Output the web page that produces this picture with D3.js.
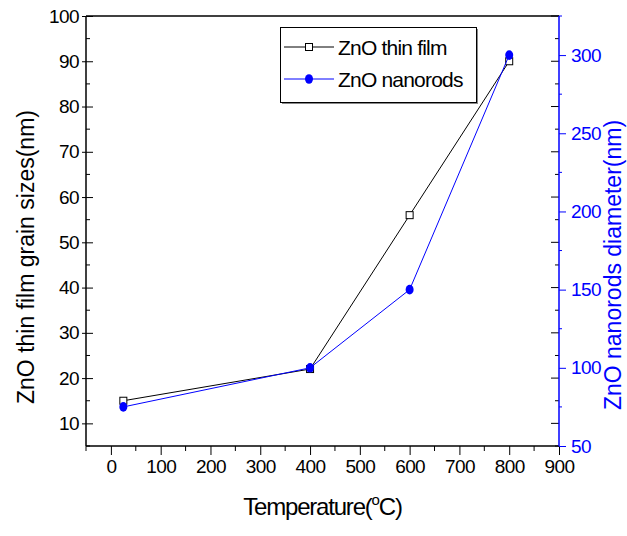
<!DOCTYPE html>
<html>
<head>
<meta charset="utf-8">
<script src="https://cdn.jsdelivr.net/npm/d3@7"></script>
<style>
  html, body { margin: 0; padding: 0; background: #fff; }
  svg { display: block; font-family: "Liberation Sans", Arial, sans-serif; }
</style>
</head>
<body>
<svg id="chart" width="627" height="536"></svg>
<script>
// ---- data ----
const temperatures = [25, 400, 600, 800];
const thinFilmGrain = [15, 22, 56, 90];       // left axis (nm)
const nanorodDiameter = [75, 100, 150, 300];  // right axis (nm)
const xTicks = [0, 100, 200, 300, 400, 500, 600, 700, 800, 900];
const yLeftTicks = [10, 20, 30, 40, 50, 60, 70, 80, 90, 100];
const yRightTicks = [50, 100, 150, 200, 250, 300];
const seriesNames = ["ZnO thin film", "ZnO nanorods"];

// ---- layout ----
const L = 86, R = 559, T = 16, B = 446;
const blue = "#0000ff";
const svg = d3.select("#chart");

const x = d3.scaleLinear().domain([-50, 900]).range([L, R]);
const yL = d3.scaleLinear().domain([5, 100]).range([B, T]);
const yR = d3.scaleLinear().domain([50, 325]).range([B, T]);

// minor ticks
const xMinor = d3.range(-50, 901, 50).filter(v => v % 100 !== 0);
const yLMinor = d3.range(5, 101, 5).filter(v => v % 10 !== 0);
const yRMinor = d3.range(50, 326, 25).filter(v => v % 50 !== 0);

// ---- frame: top line ----
svg.append("line").attr("x1", L).attr("x2", R).attr("y1", T).attr("y2", T)
  .attr("stroke", "#000").attr("stroke-width", 1.5);

// bottom axis
const gx = svg.append("g").attr("transform", `translate(0,${B})`)
  .call(d3.axisBottom(x).tickValues(xTicks).tickSize(9).tickPadding(5).tickFormat(d3.format("d")));
gx.append("g").selectAll("line").data(xMinor).join("line")
  .attr("x1", d => x(d)).attr("x2", d => x(d)).attr("y1", 0).attr("y2", 5).attr("stroke", "#000");

// left axis
const gyl = svg.append("g").attr("transform", `translate(${L},0)`)
  .call(d3.axisLeft(yL).tickValues(yLeftTicks).tickSize(4).tickPadding(3).tickFormat(d3.format("d")));
gyl.selectAll(".tick line").attr("x1", 7).attr("x2", -4);
gyl.append("g").selectAll("line").data(yLMinor).join("line")
  .attr("x1", 0).attr("x2", 4).attr("y1", d => yL(d)).attr("y2", d => yL(d)).attr("stroke", "#000");

// mirror ticks of left axis on right side (inward, black)
const gMirror = svg.append("g").attr("transform", `translate(${R},0)`);
gMirror.selectAll("line.maj").data(yLeftTicks).join("line").attr("class", "maj")
  .attr("x1", 0).attr("x2", -8).attr("y1", d => yL(d)).attr("y2", d => yL(d)).attr("stroke", "#000");
gMirror.selectAll("line.min").data(yLMinor).join("line").attr("class", "min")
  .attr("x1", 0).attr("x2", -4).attr("y1", d => yL(d)).attr("y2", d => yL(d)).attr("stroke", "#000");

// right axis (blue)
const gyr = svg.append("g").attr("transform", `translate(${R},0)`)
  .call(d3.axisRight(yR).tickValues(yRightTicks).tickSize(7).tickPadding(5).tickFormat(d3.format("d")));
gyr.append("g").selectAll("line").data(yRMinor).join("line")
  .attr("x1", 0).attr("x2", 3).attr("y1", d => yR(d)).attr("y2", d => yR(d)).attr("stroke", blue);
gyr.select(".domain").attr("stroke", blue).attr("d", `M0,${T}V${B}`).attr("stroke-width", 1.5);
gyr.selectAll(".tick line").attr("stroke", blue);
gyr.selectAll(".tick text").attr("fill", blue);

// axis styling
[gx, gyl].forEach(g => {
  g.select(".domain").attr("stroke", "#000").attr("stroke-width", 1.5);
});
gx.select(".domain").attr("d", `M${L},0H${R}`);
gyl.select(".domain").attr("d", `M0,${T}V${B}`);
[gx, gyl, gyr].forEach(g => {
  g.selectAll(".tick text").attr("font-size", 19).attr("letter-spacing", -0.6)
    .attr("font-family", "Liberation Sans, Arial, sans-serif");
});
gx.selectAll(".tick line").attr("stroke", "#000");
gyl.selectAll(".tick line").attr("stroke", "#000");

// ---- series ----
const filmPts = temperatures.map((t, i) => [t, thinFilmGrain[i]]);
const rodPts = temperatures.map((t, i) => [t, nanorodDiameter[i]]);

svg.append("path").datum(filmPts)
  .attr("d", d3.line().x(d => x(d[0])).y(d => yL(d[1])))
  .attr("fill", "none").attr("stroke", "#000").attr("stroke-width", 1);
svg.append("g").selectAll("rect").data(filmPts).join("rect")
  .attr("x", d => x(d[0]) - 3.5).attr("y", d => yL(d[1]) - 3.5)
  .attr("width", 7).attr("height", 7)
  .attr("fill", "#fff").attr("stroke", "#000").attr("stroke-width", 1);

svg.append("path").datum(rodPts)
  .attr("d", d3.line().x(d => x(d[0])).y(d => yR(d[1])))
  .attr("fill", "none").attr("stroke", blue).attr("stroke-width", 1);
svg.append("g").selectAll("ellipse").data(rodPts).join("ellipse")
  .attr("cx", d => x(d[0])).attr("cy", d => yR(d[1]))
  .attr("rx", 4).attr("ry", 4.8).attr("fill", blue);

// ---- legend ----
const lg = svg.append("g");
lg.append("rect").attr("x", 282).attr("y", 29).attr("width", 196).attr("height", 75).attr("fill", "#888");
lg.append("rect").attr("x", 280.5).attr("y", 27.5).attr("width", 196).attr("height", 75)
  .attr("fill", "#fff").attr("stroke", "#000").attr("stroke-width", 1);
const rows = [
  { name: seriesNames[0], color: "#000", y: 47, marker: "square" },
  { name: seriesNames[1], color: blue, y: 79, marker: "circle" }
];
rows.forEach(r => {
  lg.append("line").attr("x1", 284).attr("x2", 334).attr("y1", r.y).attr("y2", r.y)
    .attr("stroke", r.color).attr("stroke-width", 1);
  if (r.marker === "square") {
    lg.append("rect").attr("x", 309 - 3.5).attr("y", r.y - 3.5).attr("width", 7).attr("height", 7)
      .attr("fill", "#fff").attr("stroke", "#000");
  } else {
    lg.append("ellipse").attr("cx", 309).attr("cy", r.y).attr("rx", 4).attr("ry", 4.8).attr("fill", blue);
  }
  lg.append("text").attr("x", 338).attr("y", r.y + 7.5).attr("font-size", 21)
    .attr("letter-spacing", -0.8).attr("fill", "#000").text(r.name);
});

// ---- axis titles ----
const xt = svg.append("text").attr("x", (L + R) / 2).attr("y", 515)
  .attr("text-anchor", "middle").attr("font-size", 24).attr("letter-spacing", -1.2).attr("fill", "#000");
xt.append("tspan").text("Temperature(");
xt.append("tspan").attr("font-size", 15).attr("dy", -10).text("o");
xt.append("tspan").attr("dy", 10).text("C)");

svg.append("text").attr("transform", `translate(34,257) rotate(-90)`)
  .attr("text-anchor", "middle").attr("font-size", 23).attr("fill", "#000")
  .text("ZnO thin film grain sizes(nm)");

svg.append("text").attr("transform", `translate(621,265) rotate(-90)`)
  .attr("text-anchor", "middle").attr("font-size", 23).attr("fill", blue)
  .text("ZnO nanorods diameter(nm)");
</script>
</body>
</html>
